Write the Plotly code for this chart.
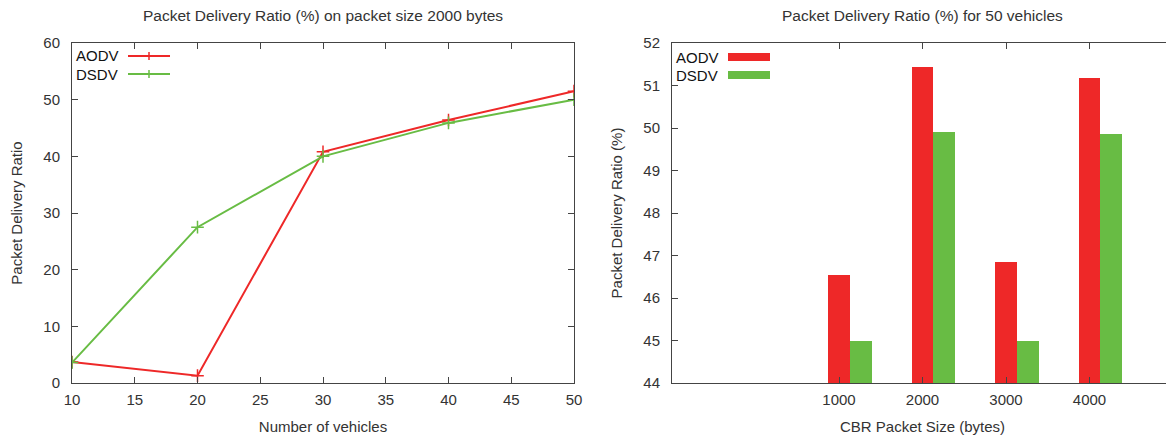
import plotly.graph_objects as go

# ---- data ----
vehicles = [10, 20, 30, 40, 50]
aodv_pdr = [3.7, 1.3, 40.8, 46.4, 51.5]
dsdv_pdr = [3.6, 27.5, 40.0, 45.9, 50.0]

packet_sizes = ["1000", "2000", "3000", "4000"]
aodv_bar = [46.54, 51.44, 46.85, 51.17]
dsdv_bar = [45.0, 49.9, 45.0, 49.87]

# page offset (the html body has an 8px margin)
OFF = 8
W, H = 1174 - OFF, 437 - OFF
RED = "rgb(238,40,40)"
GREEN = "rgb(104,188,68)"
TXT = "#333333"
AX = "#444444"
FONT = "Liberation Sans, Arial, sans-serif"
Y_BASE = 44

def px_x(p):
    return (p - OFF) / W

def px_y(p):
    return 1 - (p - OFF) / H

fig = go.Figure()

# left line chart
fig.add_trace(go.Scatter(x=vehicles, y=aodv_pdr, mode="lines+markers", name="AODV",
                         line=dict(color=RED, width=2),
                         marker=dict(symbol="cross-thin", size=9, line=dict(color=RED, width=1.5)),
                         xaxis="x", yaxis="y", showlegend=False))
fig.add_trace(go.Scatter(x=vehicles, y=dsdv_pdr, mode="lines+markers", name="DSDV",
                         line=dict(color=GREEN, width=2),
                         marker=dict(symbol="cross-thin", size=9, line=dict(color=GREEN, width=1.5)),
                         xaxis="x", yaxis="y", showlegend=False))

# right bar chart
idx = list(range(len(packet_sizes)))
bw = 0.26
fig.add_trace(go.Bar(x=idx, y=[v - Y_BASE for v in aodv_bar], base=Y_BASE, width=bw,
                     marker=dict(color=RED, line=dict(width=0)),
                     name="AODV", xaxis="x2", yaxis="y2", showlegend=False))
fig.add_trace(go.Bar(x=[i + bw for i in idx], y=[v - Y_BASE for v in dsdv_bar], base=Y_BASE, width=bw,
                     marker=dict(color=GREEN, line=dict(width=0)),
                     name="DSDV", xaxis="x2", yaxis="y2", showlegend=False))

axis_common = dict(showline=True, linecolor=AX, linewidth=1, mirror="ticks", ticks="inside",
                   ticklen=6, tickcolor=AX, showgrid=False, zeroline=False,
                   tickfont=dict(family=FONT, size=15, color=TXT),
                   title_font=dict(family=FONT, size=15, color=TXT))

L_dom = [px_x(72), px_x(574)]
R_dom = [px_x(672), px_x(1173)]
Y_dom = [px_y(383), px_y(43)]

fig.update_layout(
    width=W, height=H, margin=dict(l=0, r=0, t=0, b=0, autoexpand=False),
    paper_bgcolor="white", plot_bgcolor="white",
    barmode="overlay", bargap=0,
    xaxis=dict(domain=L_dom, range=[10, 50], dtick=5, tick0=10, anchor="y", ticklabelstandoff=3,
               title=dict(text="Number of vehicles", standoff=14), **axis_common),
    yaxis=dict(domain=Y_dom, range=[0, 60], dtick=10, anchor="x", ticklabelstandoff=8,
               title=dict(text="Packet Delivery Ratio", standoff=17), **axis_common),
    xaxis2=dict(domain=R_dom, range=[-2, 4], tickvals=idx, ticktext=packet_sizes, anchor="y2",
                ticklabelstandoff=3,
                title=dict(text="CBR Packet Size (bytes)", standoff=14), **axis_common),
    yaxis2=dict(domain=Y_dom, range=[44, 52], dtick=1, anchor="x2", ticklabelstandoff=8,
                title=dict(text="Packet Delivery Ratio (%)", standoff=17), **axis_common),
)

# titles
for txt, xc in [("Packet Delivery Ratio (%) on packet size 2000 bytes", 323),
                ("Packet Delivery Ratio (%) for 50 vehicles", 922)]:
    fig.add_annotation(text=txt, x=px_x(xc), y=px_y(15), xref="paper", yref="paper",
                       showarrow=False, xanchor="center", yanchor="middle",
                       font=dict(family=FONT, size=15.5, color=TXT))

# custom legends (text then sample, gnuplot style)
names = ["AODV", "DSDV"]
colors = [RED, GREEN]
for k in range(2):
    yc = px_y(56 + 18 * k)
    fig.add_annotation(text=names[k], x=px_x(74), y=yc, xref="paper", yref="paper",
                       showarrow=False, xanchor="left", yanchor="middle",
                       font=dict(family=FONT, size=15, color="#111111"))
    fig.add_shape(type="line", x0=px_x(128), x1=px_x(170), y0=yc, y1=yc, xref="paper", yref="paper",
                  line=dict(color=colors[k], width=2))
    fig.add_shape(type="line", x0=px_x(149), x1=px_x(149), y0=yc - 4 / H, y1=yc + 4 / H,
                  xref="paper", yref="paper", line=dict(color=colors[k], width=1.5))
    yr = px_y(57 + 18 * k)
    fig.add_annotation(text=names[k], x=px_x(674), y=yr, xref="paper", yref="paper",
                       showarrow=False, xanchor="left", yanchor="middle",
                       font=dict(family=FONT, size=15, color="#111111"))
    fig.add_shape(type="rect", x0=px_x(728), x1=px_x(770), y0=yr - 4 / H, y1=yr + 4 / H,
                  xref="paper", yref="paper", line=dict(width=0), fillcolor=colors[k])

fig.write_html("out.html")
